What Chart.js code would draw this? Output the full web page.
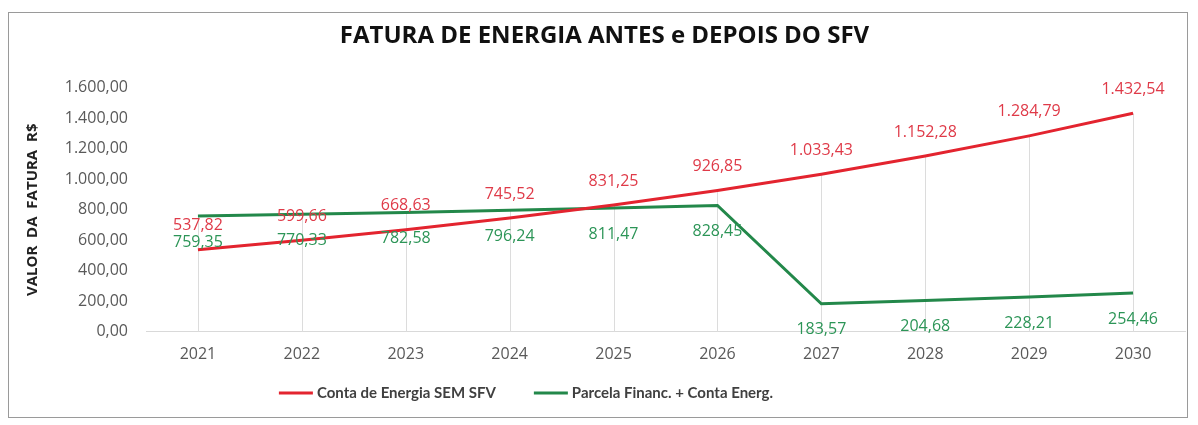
<!DOCTYPE html>
<html>
<head>
<meta charset="utf-8">
<script src="https://cdn.jsdelivr.net/npm/chart.js@4"></script>
<style>
  html, body { margin: 0; padding: 0; background: #fff; }
  #wrap { position: relative; width: 1198px; height: 425px; }
  #frame { position: absolute; left: 8px; top: 12px; width: 1180px; height: 406px; border: 1px solid #9a9a9a; box-sizing: border-box; pointer-events: none; }
</style>
</head>
<body>
<div id="wrap">
  <canvas id="chart" width="1198" height="425"></canvas>
  <div id="frame"></div>
</div>
<script>
// data
const years = ['2021', '2022', '2023', '2024', '2025', '2026', '2027', '2028', '2029', '2030'];
const semSFV = [537.82, 599.66, 668.63, 745.52, 831.25, 926.85, 1033.43, 1152.28, 1284.79, 1432.54];
const comSFV = [759.35, 770.33, 782.58, 796.24, 811.47, 828.45, 183.57, 204.68, 228.21, 254.46];

const FONT = 'Lato, "Open Sans", sans-serif';
const WIDE = '"Open Sans", Lato, sans-serif';
const RED = '#e3242f';
const GREEN = '#23884a';

const fmt = v => v.toLocaleString('pt-BR', { minimumFractionDigits: 2, maximumFractionDigits: 2 });

// vertical drop lines from the highest point down to the axis
const dropLines = {
    id: 'dropLines',
    beforeDatasetsDraw(chart) {
        const { ctx } = chart;
        const x = chart.scales.x, y = chart.scales.y;
        ctx.save();
        ctx.strokeStyle = '#dcdcdc';
        ctx.lineWidth = 1;
        years.forEach((yr, i) => {
            const top = Math.max(semSFV[i], comSFV[i]);
            const px = Math.round(x.getPixelForValue(i)) + 0.5;
            ctx.beginPath();
            ctx.moveTo(px, y.getPixelForValue(top));
            ctx.lineTo(px, y.getPixelForValue(0));
            ctx.stroke();
        });
        ctx.restore();
    }
};

// value labels: red above, green below
const valueLabels = {
    id: 'valueLabels',
    afterDatasetsDraw(chart) {
        const { ctx } = chart;
        ctx.save();
        ctx.font = '16px ' + WIDE;
        ctx.textAlign = 'center';
        ctx.textBaseline = 'middle';
        chart.data.datasets.forEach((ds, di) => {
            const meta = chart.getDatasetMeta(di);
            meta.data.forEach((pt, i) => {
                ctx.fillStyle = di === 0 ? '#df3a48' : '#2c9557';
                const dy = di === 0 ? -24 : 26;
                ctx.fillText(fmt(ds.data[i]), pt.x, pt.y + dy);
            });
        });
        ctx.restore();
    }
};

// legend drawn by hand, it sits left of centre in the original
const bottomLegend = {
    id: 'bottomLegend',
    afterDraw(chart) {
        const { ctx } = chart;
        const sample = 34, gap = 4, between = 38, cy = 393, centre = 526;
        ctx.save();
        ctx.font = 'bold 15px ' + FONT;
        ctx.textBaseline = 'middle';
        const items = chart.data.datasets.map(ds => ({ ds, w: ctx.measureText(ds.label).width }));
        let total = items.reduce((s, it) => s + sample + gap + it.w, 0) + between * (items.length - 1);
        let x = centre - total / 2;
        items.forEach(({ ds, w }) => {
            ctx.strokeStyle = ds.borderColor;
            ctx.lineWidth = 3;
            ctx.beginPath();
            ctx.moveTo(x, cy);
            ctx.lineTo(x + sample, cy);
            ctx.stroke();
            ctx.fillStyle = '#404040';
            ctx.fillText(ds.label, x + sample + gap, cy);
            x += sample + gap + w + between;
        });
        ctx.restore();
    }
};

new Chart(document.getElementById('chart').getContext('2d'), {
    type: 'line',
    data: {
        labels: years,
        datasets: [
            {
                label: 'Conta de Energia SEM SFV',
                data: semSFV,
                borderColor: RED,
                backgroundColor: RED,
                borderWidth: 3,
                pointRadius: 0,
                tension: 0
            },
            {
                label: 'Parcela Financ. + Conta Energ.',
                data: comSFV,
                borderColor: GREEN,
                backgroundColor: GREEN,
                borderWidth: 3,
                pointRadius: 0,
                tension: 0
            }
        ]
    },
    options: {
        responsive: false,
        animation: false,
        layout: { padding: { left: 24, right: 13, top: 14, bottom: 56 } },
        plugins: {
            title: {
                display: true,
                text: 'FATURA DE ENERGIA ANTES e DEPOIS DO SFV',
                color: '#111',
                font: { family: WIDE, size: 24, weight: 'bold' },
                padding: { top: 8, bottom: 37 }
            },
            legend: { display: false },
            tooltip: { enabled: false }
        },
        scales: {
            x: {
                offset: true,
                grid: { display: false },
                border: { display: true, color: '#d9d9d9' },
                ticks: { color: '#595959', font: { family: WIDE, size: 16 }, padding: 5 }
            },
            y: {
                min: 0,
                max: 1600,
                grid: { display: false },
                border: { display: false },
                afterFit(scale) { scale.width = 122; },
                ticks: {
                    stepSize: 200,
                    color: '#595959',
                    padding: 10,
                    font: { family: WIDE, size: 16 },
                    callback: v => fmt(v)
                },
                title: {
                    display: true,
                    text: 'VALOR  DA  FATURA  R$',
                    color: '#222',
                    font: { family: WIDE, size: 15, weight: 'bold' },
                    padding: { top: 0, bottom: 0 }
                }
            }
        }
    },
    plugins: [dropLines, valueLabels, bottomLegend]
});
</script>
</body>
</html>
